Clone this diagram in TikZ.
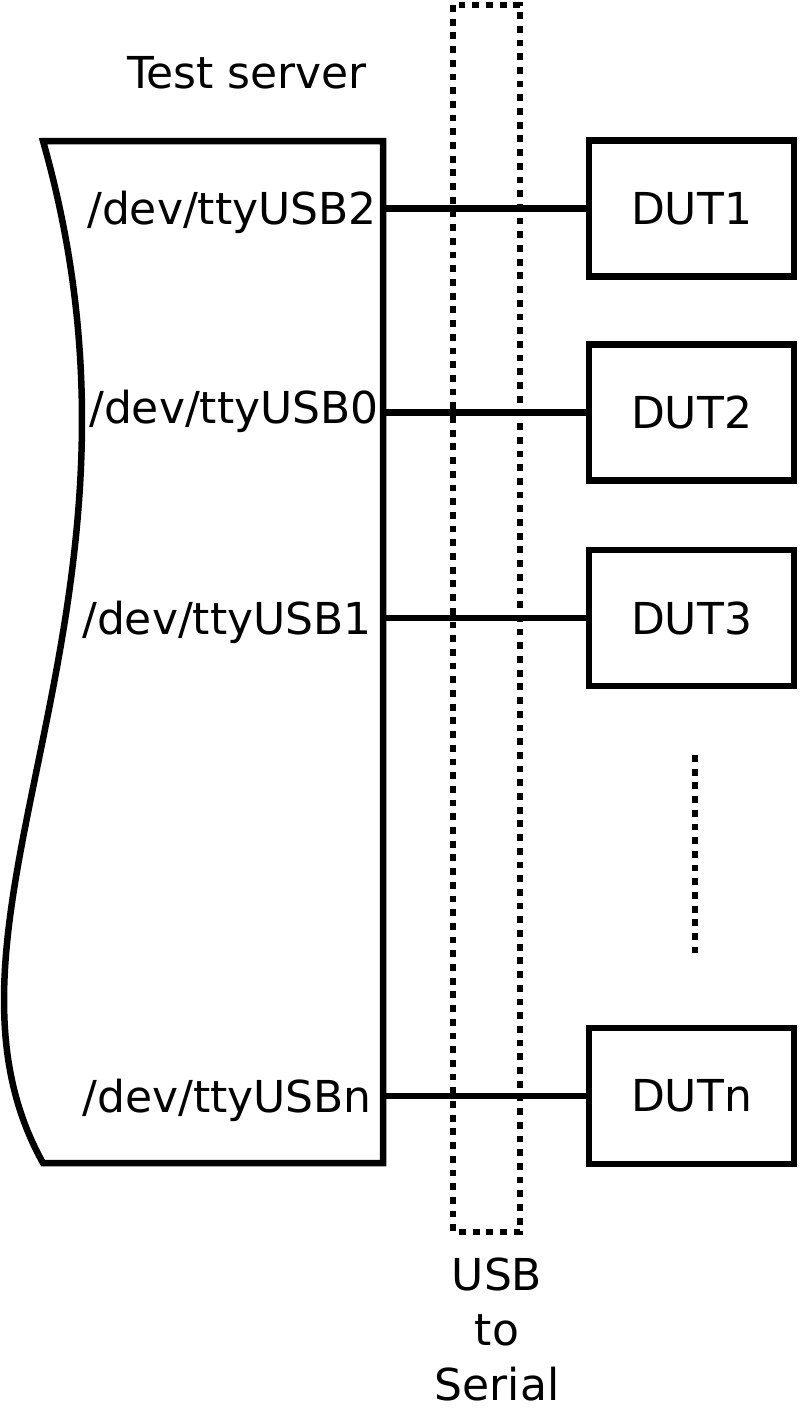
\documentclass[tikz,border=0pt]{standalone}
\usepackage{fontspec}
\setmainfont{DejaVu Sans}
\begin{document}
\begin{tikzpicture}[x=1pt,y=-1pt,
  line width=6.5pt,
  dutbox/.style={draw,minimum width=205pt,minimum height=136pt,inner sep=0pt,font=\fontsize{44}{55}\selectfont},
  lbl/.style={inner sep=0pt,font=\fontsize{44}{55}\selectfont},
  dotline/.style={line width=6.5pt,dash pattern=on 6.8pt off 6.9pt}]
\useasboundingbox (0,0) rectangle (800,1408);
% server shape
\draw (383,141) -- (43,141) .. controls (178,615) and (-92,921) .. (43,1163) -- (383,1163) -- cycle;
\coordinate (p2) at (383,208.5);
\coordinate (p0) at (383,412.5);
\coordinate (p1) at (383,618);
\coordinate (pn) at (383,1096);
\node[lbl,anchor=base] (title) at (247,88) {Test server};
\node[lbl,anchor=base east] (l2) at (380,224) {/dev/ttyUSB2};
\node[lbl,anchor=base east] (l0) at (382,423) {/dev/ttyUSB0};
\node[lbl,anchor=base east] (l1) at (375,634) {/dev/ttyUSB1};
\node[lbl,anchor=base east] (ln) at (375,1112) {/dev/ttyUSBn};
% usb to serial box
\draw[dotline] (453,5) rectangle (520,1232);
\node[lbl,anchor=base,align=center] (usb) at (497,1400) {USB\\to\\Serial};
% DUTs
\node[dutbox] (d1) at (691.5,208.5) {DUT1};
\node[dutbox] (d2) at (691.5,412.5) {DUT2};
\node[dutbox] (d3) at (691.5,618) {DUT3};
\node[dutbox] (dn) at (691.5,1096) {DUTn};
\draw (p2) -- (d1.west);
\draw (p0) -- (d2.west);
\draw (p1) -- (d3.west);
\draw (pn) -- (dn.west);
\coordinate (v1) at (695,755);
\coordinate (v2) at (695,953);
\draw[dotline] (v1) -- (v2);
\end{tikzpicture}
\end{document}
